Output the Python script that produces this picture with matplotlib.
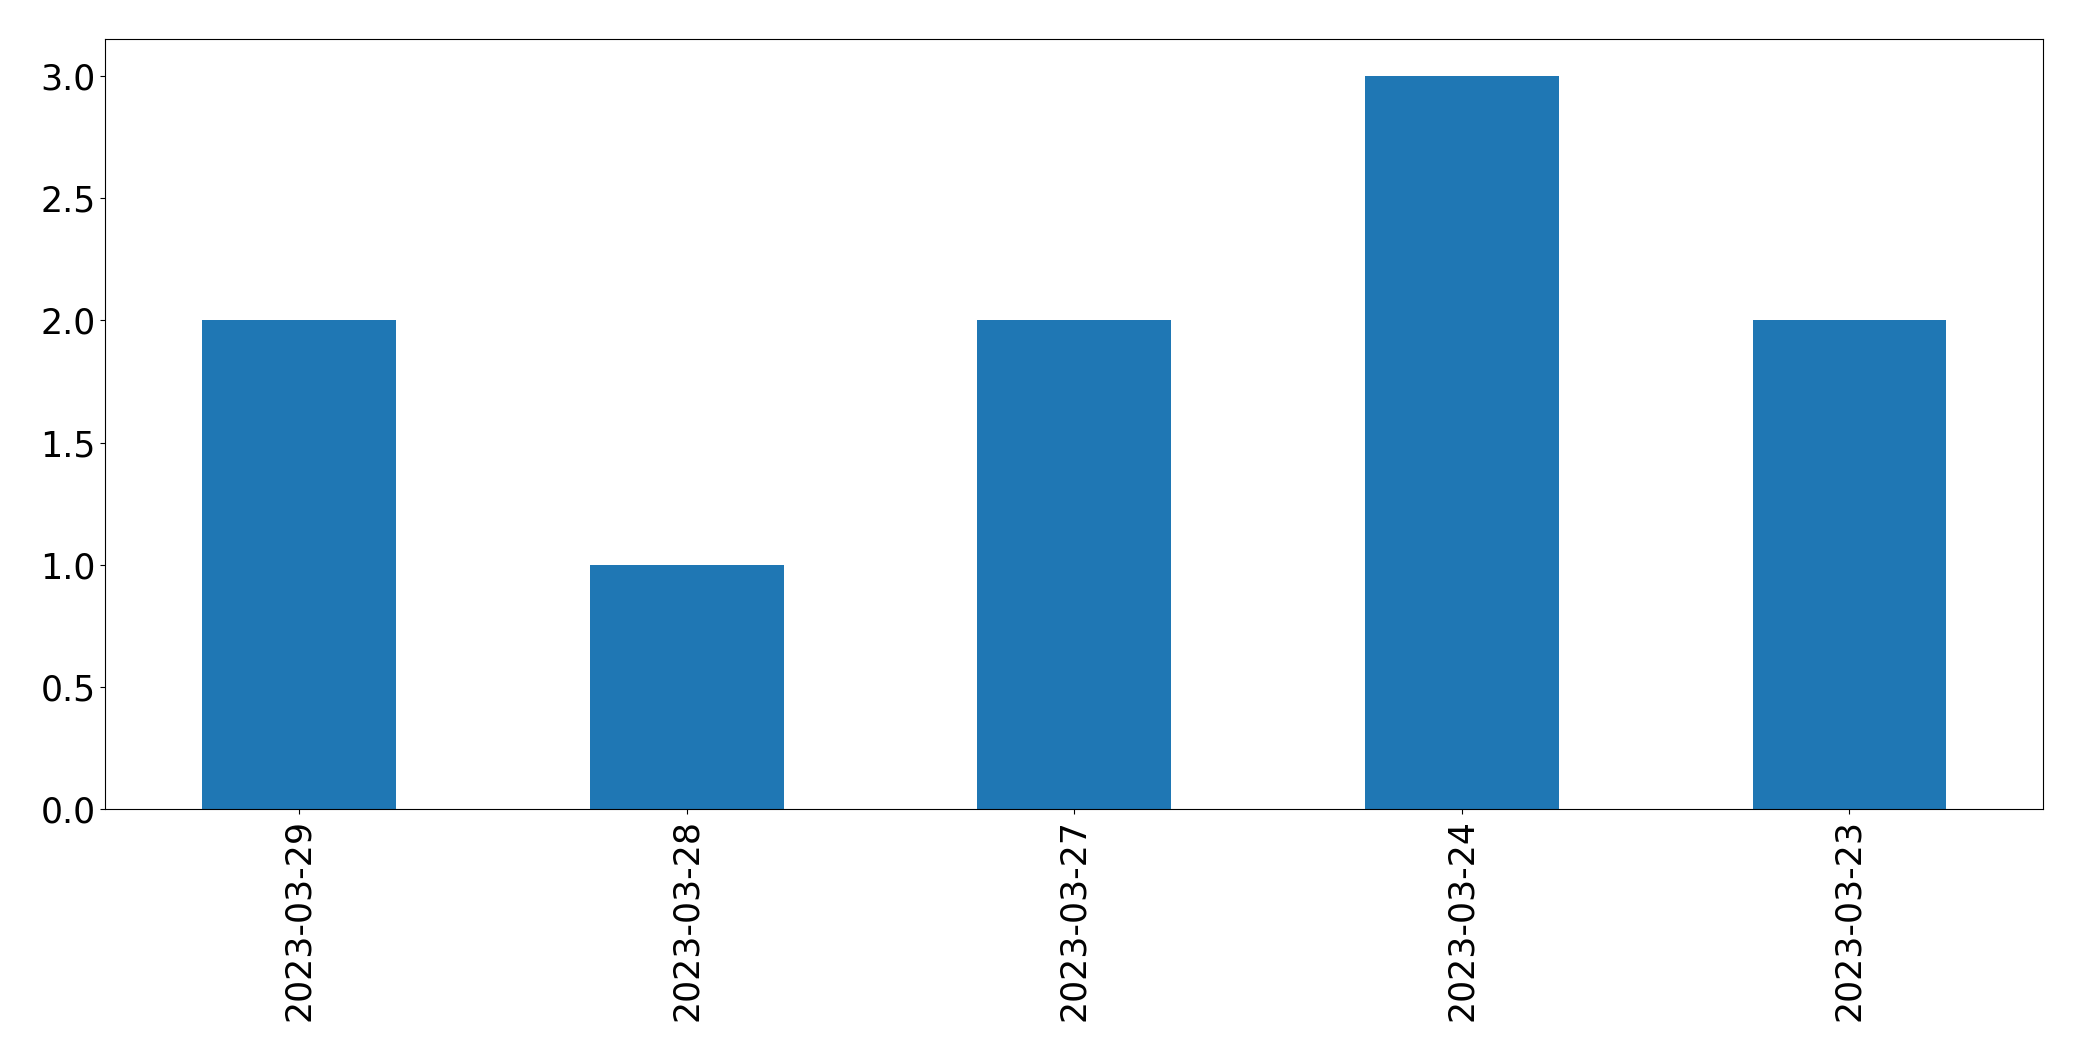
import matplotlib
matplotlib.use("Agg")
import matplotlib.pyplot as plt

dates = ["2023-03-29", "2023-03-28", "2023-03-27", "2023-03-24", "2023-03-23"]
counts = [2, 1, 2, 3, 2]

fig = plt.figure(figsize=(20.82, 10.61), dpi=100)
ax = fig.add_axes([0.0506, 0.2372, 0.9308, 0.7258])

x = range(len(dates))
ax.bar(x, counts, width=0.5, color="#1f77b4")
ax.set_xlim(-0.5, len(dates) - 0.5)
ax.set_ylim(0, 3.15)
ax.set_xticks(list(x))
ax.set_xticklabels(dates, rotation=90)
ax.tick_params(axis="both", labelsize=25)

fig.savefig("out.png", dpi=100)
